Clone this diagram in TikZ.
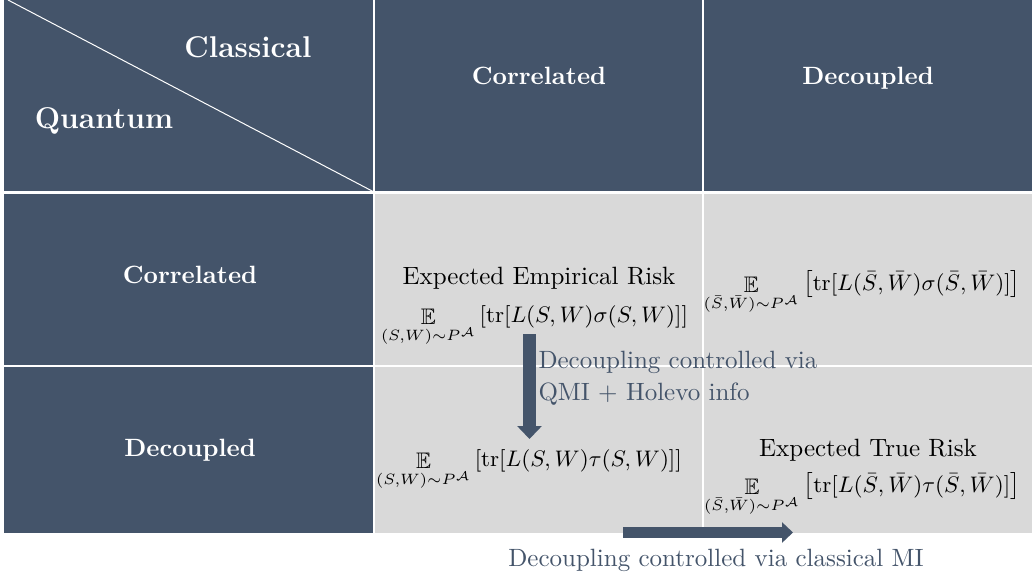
\documentclass[tikz,border=0pt]{standalone}
\usepackage{amsmath,amssymb}
\usetikzlibrary{arrows.meta}
\definecolor{hdr}{HTML}{44546A}
\definecolor{cellgray}{HTML}{D9D9D9}
\begin{document}
\begin{tikzpicture}[x=0.4pt,y=-0.4pt,
  dark/.style={fill=hdr},
  light/.style={fill=cellgray},
  grid/.style={draw=white,line width=0.6pt},
  hdrtext/.style={text=white,font=\bfseries,inner sep=0pt},
  bigtext/.style={text=white,font=\large\bfseries,inner sep=0pt},
  celltext/.style={text=black,inner sep=0pt},
  mathtext/.style={text=black,inner sep=0pt,font=\small},
  notetext/.style={text=hdr,inner sep=0pt},
  bigarrow/.style={draw=hdr,line width=5.2pt,-{Triangle[width=9.6pt,length=5.2pt]}},
  harrow/.style={draw=hdr,line width=4.4pt,-{Triangle[width=8pt,length=4.4pt]}}]
\useasboundingbox (0,0) rectangle (1032,579);
% cells
\fill[dark] (3,0) rectangle (374,192);
\fill[dark] (374,0) rectangle (703,192);
\fill[dark] (703,0) rectangle (1032,192);
\fill[dark] (3,192) rectangle (374,366);
\fill[dark] (3,366) rectangle (374,533);
\fill[light] (374,192) rectangle (1032,533);
% grid lines
\draw[grid] (374,0) -- (374,533);
\draw[grid] (703,0) -- (703,533);
\draw[grid,line width=1pt] (3,192.5) -- (1032,192.5);
\draw[grid] (3,366) -- (1032,366);
\draw[grid] (3,0) -- (3,533);
\draw[draw=white,line width=0.4pt] (8,0) -- (374,192);
% headers
\node[bigtext,anchor=base] (cl) at (248,58) {Classical};
\node[bigtext,anchor=base] (qu) at (104,129) {Quantum};
\node[hdrtext,anchor=base] (hc) at (539,85) {Correlated};
\node[hdrtext,anchor=base] (hd) at (868,85) {Decoupled};
\node[hdrtext,anchor=base] (rc) at (190,283) {Correlated};
\node[hdrtext,anchor=base] (rd) at (190,456) {Decoupled};
% cell contents
\node[celltext,anchor=base] (eer) at (539,284) {Expected Empirical Risk};
\node[mathtext,anchor=base] (f22) at (534.5,322) {$\displaystyle\mathop{\mathbb{E}}\limits_{(S,W)\sim P^{\mathcal{A}}}\,[\mathrm{tr}[L(S,W)\sigma(S,W)]]$};
\node[mathtext,anchor=base] (f23) at (862,290) {$\displaystyle\mathop{\mathbb{E}}\limits_{(\bar S,\bar W)\sim P^{\mathcal{A}}}\left[\mathrm{tr}[L(\bar S,\bar W)\sigma(\bar S,\bar W)]\right]$};
\node[mathtext,anchor=base] (f32) at (529,466) {$\displaystyle\mathop{\mathbb{E}}\limits_{(S,W)\sim P^{\mathcal{A}}}\,[\mathrm{tr}[L(S,W)\tau(S,W)]]$};
\node[celltext,anchor=base] (etr) at (868,456) {Expected True Risk};
\node[mathtext,anchor=base] (f33) at (862,492) {$\displaystyle\mathop{\mathbb{E}}\limits_{(\bar S,\bar W)\sim P^{\mathcal{A}}}\left[\mathrm{tr}[L(\bar S,\bar W)\tau(\bar S,\bar W)]\right]$};
% arrows
\coordinate (va) at (529.5,334);
\coordinate (vb) at (529.5,439);
\draw[bigarrow] (va) -- (vb);
\coordinate (ha) at (623,532.5);
\coordinate (hb) at (793,532.5);
\draw[harrow] (ha) -- (hb);
\node[notetext,anchor=base west,align=left] (vl) at (538,400) {Decoupling controlled via\\[0.8pt]QMI + Holevo info};
\node[notetext,anchor=base] (hl) at (716,566) {Decoupling controlled via classical MI};
\end{tikzpicture}
\end{document}
